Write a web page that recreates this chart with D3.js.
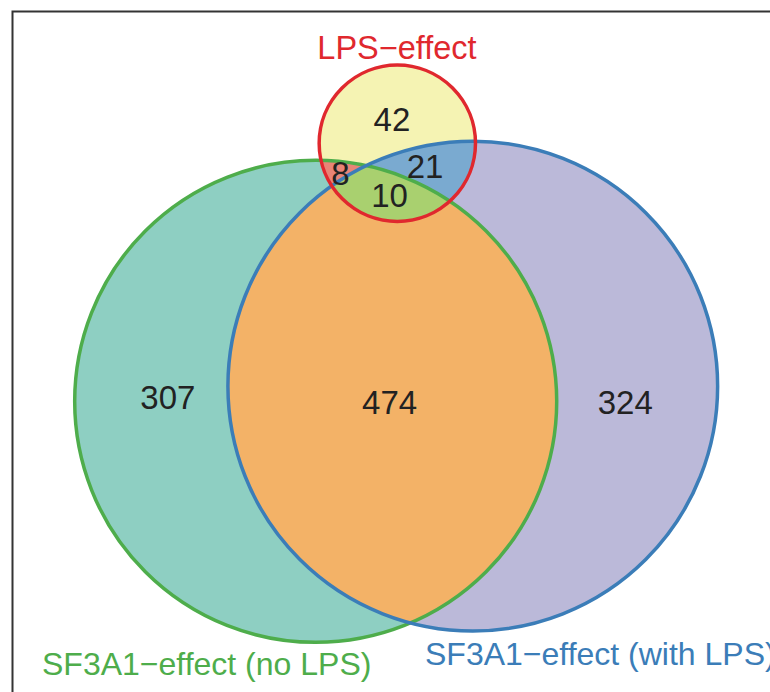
<!DOCTYPE html>
<html>
<head>
<meta charset="utf-8">
<script src="https://cdn.jsdelivr.net/npm/d3@7"></script>
<style>
  body { margin: 0; background: #fff; }
  text { font-family: "Liberation Sans", Arial, sans-serif; }
</style>
</head>
<body>
<div id="venn"></div>
<script>
// ===========================================================
// DATA
// ===========================================================
var setNames = ["SF3A1\u2212effect (no LPS)", "SF3A1\u2212effect (with LPS)", "LPS\u2212effect"];
var setKeys = ["noLPS", "withLPS", "lps"];

// region -> count
var regionKeys = ["noLPS", "withLPS", "noLPS&withLPS", "lps", "lps&noLPS", "lps&withLPS", "lps&noLPS&withLPS"];
var regionCounts = [307, 324, 474, 42, 8, 21, 10];

// ===========================================================
// SET MARGINS / LAYOUT
// ===========================================================
var svgWidth = 770;
var svgHeight = 692;

// circle layout in abstract units (0..100 box)
var layout = {
    noLPS:   { cx: 41.0, cy: 58.0, r: 31.3 },
    withLPS: { cx: 61.4, cy: 55.8, r: 31.8 },
    lps:     { cx: 51.6, cy: 20.7, r: 10.15 }
};

var x = d3.scaleLinear().domain([0, 100]).range([0, 770]);
var y = d3.scaleLinear().domain([0, 100]).range([0, 692]);
var rs = d3.scaleLinear().domain([0, 100]).range([0, 770]);

var fills = {
    "noLPS": "#8ecfc2",
    "withLPS": "#bbb9d9",
    "noLPS&withLPS": "#f3b267",
    "lps": "#f5f3b3",
    "lps&noLPS": "#e98476",
    "lps&withLPS": "#7aaad0",
    "lps&noLPS&withLPS": "#a9d06f"
};
var strokes = { noLPS: "#4ead4b", withLPS: "#3b7db8", lps: "#e0282e" };

// label anchors (abstract units)
var labelPos = {
    "noLPS": [21.8, 57.4],
    "withLPS": [81.2, 58.1],
    "noLPS&withLPS": [50.6, 58.1],
    "lps": [50.9, 17.3],
    "lps&noLPS": [44.2, 25.0],
    "lps&withLPS": [55.2, 24.0],
    "lps&noLPS&withLPS": [50.6, 28.3]
};

// ===========================================================
// SVG WRAPPER
// ===========================================================
var svg = d3.select('#venn')
    .append('svg')
    .attr('width', svgWidth)
    .attr('height', svgHeight);

var defs = svg.append('defs');
setKeys.forEach(function(k) {
    var c = layout[k];
    defs.append('clipPath').attr('id', 'clip-' + k)
        .append('circle')
        .attr('cx', x(c.cx)).attr('cy', y(c.cy)).attr('r', rs(c.r));
});

function circleFill(k, color, clips) {
    var c = layout[k];
    // nest clip groups
    var parent = svg;
    clips.forEach(function(cl) {
        parent = parent.append('g').attr('clip-path', 'url(#clip-' + cl + ')');
    });
    parent.append('circle')
        .attr('cx', x(c.cx)).attr('cy', y(c.cy)).attr('r', rs(c.r))
        .attr('fill', color);
}

// base fills
circleFill('noLPS', fills['noLPS'], []);
circleFill('withLPS', fills['withLPS'], []);
circleFill('withLPS', fills['noLPS&withLPS'], ['noLPS']);
circleFill('lps', fills['lps'], []);
circleFill('lps', fills['lps&noLPS'], ['noLPS']);
circleFill('lps', fills['lps&withLPS'], ['withLPS']);
circleFill('lps', fills['lps&noLPS&withLPS'], ['noLPS', 'withLPS']);

// outlines
svg.append('g').selectAll('circle')
    .data(setKeys)
    .enter()
    .append('circle')
    .attr('cx', d => x(layout[d].cx))
    .attr('cy', d => y(layout[d].cy))
    .attr('r', d => rs(layout[d].r))
    .attr('fill', 'none')
    .attr('stroke', d => strokes[d])
    .attr('stroke-width', 3.5);

// ===========================================================
// LABELS
// ===========================================================
svg.append('g').selectAll('text')
    .data(regionKeys)
    .enter()
    .append('text')
    .attr('x', d => x(labelPos[d][0]))
    .attr('y', d => y(labelPos[d][1]))
    .attr('text-anchor', 'middle')
    .attr('dominant-baseline', 'central')
    .style('font-size', '33px')
    .attr('fill', '#222')
    .text((d, i) => regionCounts[i]);

svg.append('text')
    .attr('x', 397).attr('y', 59)
    .attr('text-anchor', 'middle')
    .style('font-size', '32.5px')
    .attr('fill', strokes.lps)
    .text(setNames[2]);

svg.append('text')
    .attr('x', 42).attr('y', 675)
    .style('font-size', '32px')
    .attr('fill', strokes.noLPS)
    .text(setNames[0]);

svg.append('text')
    .attr('x', 425).attr('y', 665)
    .style('font-size', '32px')
    .attr('fill', strokes.withLPS)
    .text(setNames[1]);

// frame
svg.append('path')
    .attr('d', 'M12.5,' + svgHeight + 'V11.5H' + svgWidth)
    .attr('fill', 'none')
    .attr('stroke', '#333')
    .attr('stroke-width', 2);
</script>
</body>
</html>
